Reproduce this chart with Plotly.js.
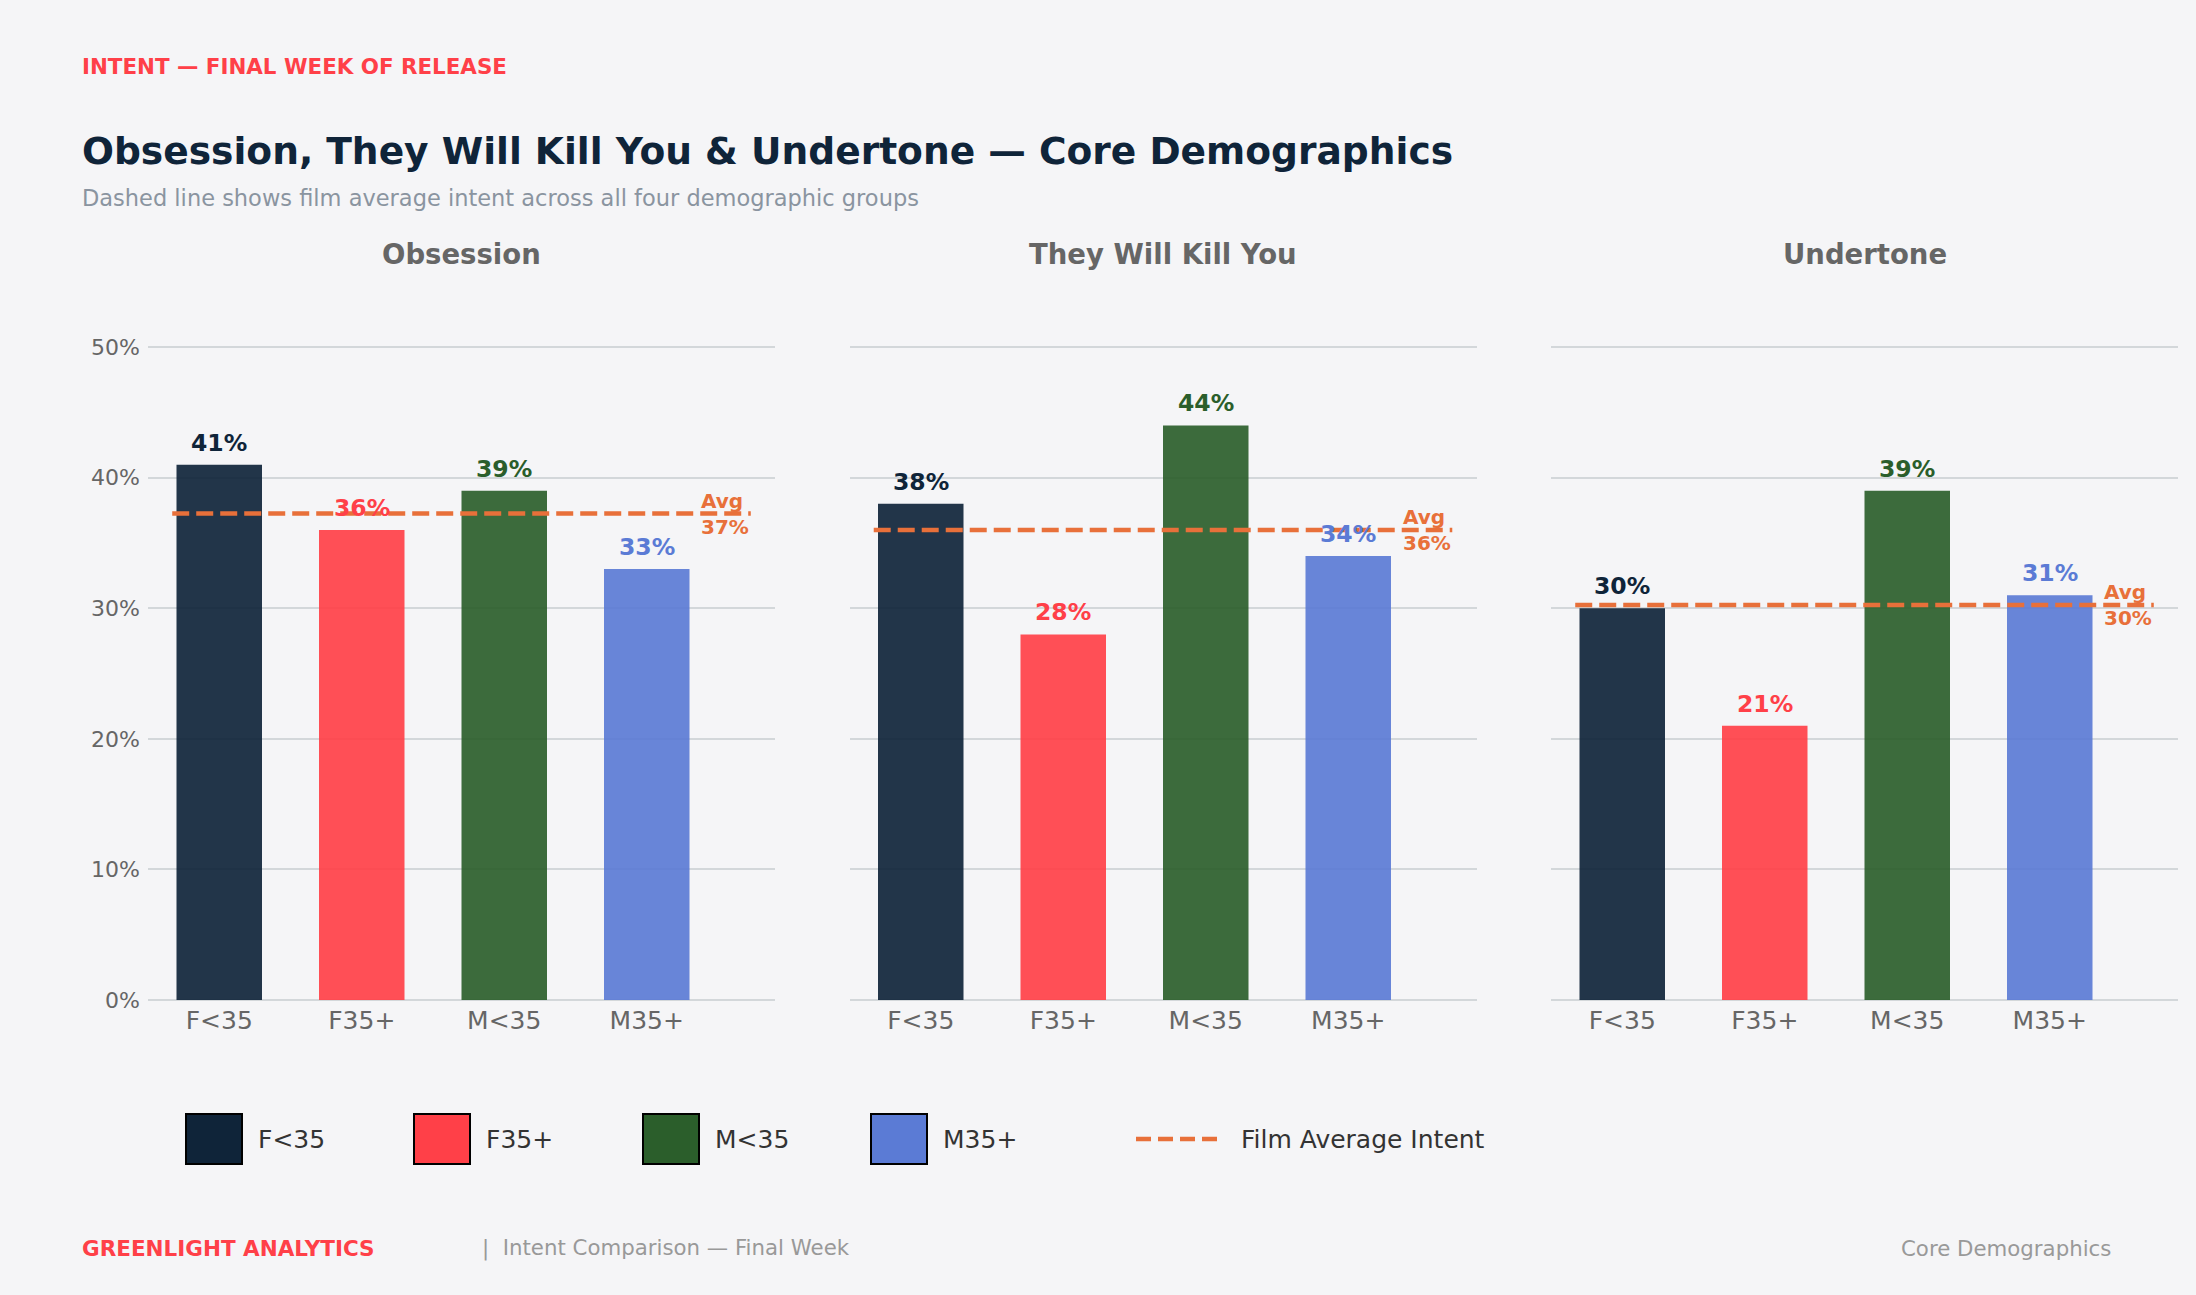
<!DOCTYPE html>
<html>
<head>
<meta charset="utf-8">
<script src="https://cdn.plot.ly/plotly-3.0.1.min.js"></script>
<style>
html, body { margin: 0; padding: 0; background: #F5F5F7; }
#chart { width: 2196px; height: 1295px; }
</style>
</head>
<body>
<div id="chart"></div>
<script>
// ---- data ----
const categories = ['F<35', 'F35+', 'M<35', 'M35+'];
const films = ['Obsession', 'They Will Kill You', 'Undertone'];
const obsession = [41, 36, 39, 33];
const theyWillKillYou = [38, 28, 44, 34];
const undertone = [30, 21, 39, 31];
const yTickVals = [0, 10, 20, 30, 40, 50];
const yTickText = ['0%', '10%', '20%', '30%', '40%', '50%'];
const groupColors = ['#0F2439', '#FF4048', '#2B5E2B', '#5B7BD5'];
const avgColor = '#E8703A';
const avgLegendLabel = 'Film Average Intent';

// ---- layout helpers (pixels) ----
const W = 2196, H = 1295;
const FONT = 'DejaVu Sans, Verdana, sans-serif';
const px = v => v / W;
const py = v => 1 - v / H;
const panelLeft = [148, 849.5, 1551];
const panelWidth = 627;
const plotTop = 321, plotBottom = 1000;
const yRange = [0, 52];
const xRange = [-0.5, 3.9];
const LEFT = 80;

const seriesByFilm = [obsession, theyWillKillYou, undertone];

const traces = [];
const annotations = [];
const shapes = [];
const layout = {
  width: W, height: H,
  margin: {l: 0, r: 0, t: 0, b: 0},
  paper_bgcolor: '#F5F5F7',
  plot_bgcolor: '#F5F5F7',
  showlegend: false,
  font: {family: FONT, color: '#666666'},
  bargap: 0.4,
};

seriesByFilm.forEach((vals, i) => {
  const n = i + 1;
  const xa = n === 1 ? 'x' : 'x' + n;
  const ya = n === 1 ? 'y' : 'y' + n;
  traces.push({
    type: 'bar',
    x: categories.map((c, k) => k),
    y: vals,
    width: 0.6,
    marker: {color: groupColors, opacity: 0.92, line: {width: 0}},
    xaxis: xa, yaxis: ya,
    hoverinfo: 'skip',
  });
  layout[n === 1 ? 'xaxis' : 'xaxis' + n] = {
    domain: [px(panelLeft[i]), px(panelLeft[i] + panelWidth)],
    range: xRange,
    anchor: ya,
    tickmode: 'array',
    tickvals: categories.map((c, k) => k),
    ticktext: categories,
    tickfont: {family: FONT, size: 25, color: '#666666'},
    ticks: '',
    ticklabelstandoff: 3,
    showgrid: false,
    zeroline: false,
    showline: false,
    fixedrange: true,
  };
  layout[n === 1 ? 'yaxis' : 'yaxis' + n] = {
    domain: [py(plotBottom), py(plotTop)],
    range: yRange,
    anchor: xa,
    tickmode: 'array',
    tickvals: yTickVals,
    ticktext: yTickText,
    showticklabels: n === 1,
    tickfont: {family: FONT, size: 22, color: '#666666'},
    ticks: '',
    ticklabelstandoff: 7,
    showgrid: true,
    gridcolor: '#D3D7DA',
    gridwidth: 2,
    zeroline: true,
    zerolinecolor: '#D3D7DA',
    zerolinewidth: 2,
    showline: false,
    fixedrange: true,
  };
  // value labels
  vals.forEach((v, k) => {
    annotations.push({
      xref: xa, yref: ya, x: k, y: v,
      text: '<b>' + v + '%</b>',
      showarrow: false, xanchor: 'center', yanchor: 'middle', yshift: 22,
      font: {family: FONT, size: 23.5, color: groupColors[k]},
    });
  });
  // average line
  const avg = vals.reduce((a, b) => a + b, 0) / vals.length;
  shapes.push({
    type: 'line', xref: xa, yref: ya,
    x0: -0.33, x1: 3.73, y0: avg, y1: avg,
    line: {color: avgColor, width: 4.5, dash: '17px,7px'},
    layer: 'above',
  });
  annotations.push({
    xref: xa, yref: ya, x: 3.37, y: avg,
    text: '<b>Avg<br>' + Math.round(avg) + '%</b>',
    showarrow: false, xanchor: 'left', yanchor: 'middle', align: 'left',
    font: {family: FONT, size: 20, color: avgColor},
  });
  // panel title
  annotations.push({
    xref: 'paper', yref: 'paper',
    x: px(panelLeft[i] + panelWidth / 2), y: py(254),
    text: '<b>' + films[i] + '</b>',
    showarrow: false, xanchor: 'center', yanchor: 'middle',
    font: {family: FONT, size: 27.5, color: '#666666'},
  });
});

// ---- header texts ----
annotations.push({
  xref: 'paper', yref: 'paper', x: px(LEFT), y: py(67),
  text: '<b>INTENT — FINAL WEEK OF RELEASE</b>',
  showarrow: false, xanchor: 'left', yanchor: 'middle',
  font: {family: FONT, size: 21.4, color: '#FF4048'},
});
annotations.push({
  xref: 'paper', yref: 'paper', x: px(LEFT), y: py(151),
  text: '<b>Obsession, They Will Kill You & Undertone — Core Demographics</b>',
  showarrow: false, xanchor: 'left', yanchor: 'middle',
  font: {family: FONT, size: 37.6, color: '#0F2439'},
});
annotations.push({
  xref: 'paper', yref: 'paper', x: px(LEFT), y: py(198),
  text: 'Dashed line shows film average intent across all four demographic groups',
  showarrow: false, xanchor: 'left', yanchor: 'middle',
  font: {family: FONT, size: 22.5, color: '#8A94A0'},
});

// ---- legend (drawn) ----
const legendSquareX = [186, 414, 643, 871];
const legendY = 1139;
categories.forEach((c, k) => {
  shapes.push({
    type: 'rect', xref: 'paper', yref: 'paper',
    x0: px(legendSquareX[k]), x1: px(legendSquareX[k] + 56),
    y0: py(legendY - 25), y1: py(legendY + 25),
    fillcolor: groupColors[k],
    line: {color: '#000000', width: 2},
  });
  annotations.push({
    xref: 'paper', yref: 'paper', x: px(legendSquareX[k] + 70), y: py(legendY),
    text: c, showarrow: false, xanchor: 'left', yanchor: 'middle',
    font: {family: FONT, size: 25, color: '#333333'},
  });
});
shapes.push({
  type: 'line', xref: 'paper', yref: 'paper',
  x0: px(1136), x1: px(1223), y0: py(legendY), y1: py(legendY),
  line: {color: avgColor, width: 4.5, dash: '15px,7px'},
});
annotations.push({
  xref: 'paper', yref: 'paper', x: px(1239), y: py(legendY),
  text: avgLegendLabel, showarrow: false, xanchor: 'left', yanchor: 'middle',
  font: {family: FONT, size: 25, color: '#333333'},
});

// ---- footer ----
annotations.push({
  xref: 'paper', yref: 'paper', x: px(LEFT), y: py(1248),
  text: '<b>GREENLIGHT ANALYTICS</b>',
  showarrow: false, xanchor: 'left', yanchor: 'middle',
  font: {family: FONT, size: 21.5, color: '#FF4048'},
});
annotations.push({
  xref: 'paper', yref: 'paper', x: px(480), y: py(1248),
  text: '|  Intent Comparison — Final Week',
  showarrow: false, xanchor: 'left', yanchor: 'middle',
  font: {family: FONT, size: 21.3, color: '#999999'},
});
annotations.push({
  xref: 'paper', yref: 'paper', x: px(2113), y: py(1248),
  text: 'Core Demographics',
  showarrow: false, xanchor: 'right', yanchor: 'middle',
  font: {family: FONT, size: 21.3, color: '#999999'},
});

layout.annotations = annotations;
layout.shapes = shapes;

Plotly.newPlot('chart', traces, layout, {displayModeBar: false, staticPlot: true});
</script>
</body>
</html>
